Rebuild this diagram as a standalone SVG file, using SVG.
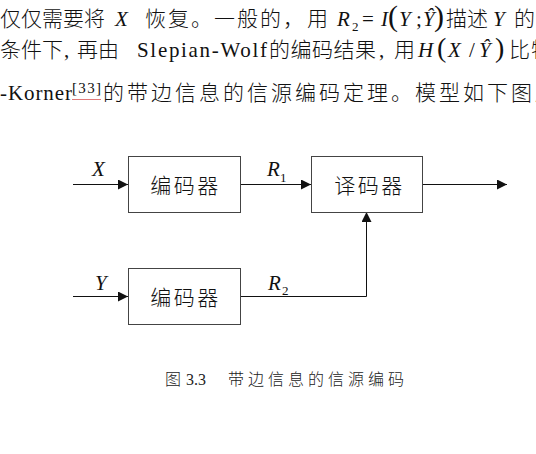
<svg xmlns="http://www.w3.org/2000/svg" width="536" height="454" viewBox="0 0 536 454">
<style>
.cjk{font-family:"Noto Sans CJK SC","Noto Sans",sans-serif;font-size:21px;fill:#111;font-weight:300}
.lat{font-family:"Liberation Serif","Times New Roman",serif;font-size:21px;fill:#111}
.it{font-style:italic}
.sub{font-family:"Liberation Serif","Times New Roman",serif;font-size:13px;fill:#111}
.box{fill:#fff;stroke:#444;stroke-width:1}
.btxt{font-family:"Noto Sans CJK SC","Noto Sans",sans-serif;font-size:21px;letter-spacing:2.5px;fill:#111;text-anchor:middle;font-weight:300}
.lbl{font-family:"Liberation Serif","Times New Roman",serif;font-size:21px;font-style:italic;fill:#111}
.wire{fill:none;stroke:#111;stroke-width:1}
.cap{font-family:"Noto Sans CJK SC","Noto Sans",sans-serif;font-size:16px;fill:#222;font-weight:300}
</style>
<defs>
<marker id="arr" viewBox="0 0 10 10" refX="10" refY="5" markerWidth="10" markerHeight="10" markerUnits="userSpaceOnUse" orient="auto">
<path d="M0,0 L10,5 L0,10 Z" fill="#111"/>
</marker>
</defs>
<rect width="536" height="454" fill="#fff"/>

<g id="body-text">
<!-- line 1 -->
<text class="cjk" y="26"><tspan x="0 21 42 63 84">仅仅需要将</tspan><tspan x="145 168 191 214 237 260 283 307">恢复。一般的，用</tspan><tspan x="446 467">描述</tspan><tspan x="514">的</tspan></text>
<text class="lat it" x="115" y="26">X</text>
<text class="lat it" x="337" y="26">R</text>
<text class="sub" x="352" y="31">2</text>
<text class="lat" x="362" y="26">=</text>
<text class="lat it" x="381" y="26">I</text>
<text class="lat" x="388" y="26" style="font-size:30px">(</text>
<text class="lat it" x="399" y="26">Y</text>
<text class="lat" x="416" y="26">;</text>
<text class="lat it" x="423" y="26">Ŷ</text>
<text class="lat" x="434" y="26" style="font-size:30px">)</text>
<text class="lat it" x="493" y="26">Y</text>
<!-- line 2 -->
<text class="cjk" y="57"><tspan x="0 21 42">条件下</tspan><tspan x="77 98">再由</tspan><tspan x="269 290.5 312 333.5 355">的编码结果</tspan><tspan x="394">用</tspan><tspan x="509 531">比特</tspan></text>
<text class="lat" x="64" y="57">,</text>
<text class="lat" x="137" y="57" textLength="130" lengthAdjust="spacing">Slepian-Wolf</text>
<text class="lat" x="379" y="57">,</text>
<text class="lat it" x="418" y="57">H</text>
<text class="lat" x="437" y="57" style="font-size:28px">(</text>
<text class="lat it" x="448" y="57">X</text>
<text class="lat" x="469" y="57">/</text>
<text class="lat it" x="479" y="57">Ŷ</text>
<text class="lat" x="495" y="57" style="font-size:28px">)</text>
<!-- line 3 -->
<text class="lat" x="0" y="100" textLength="72" lengthAdjust="spacing">-Korner</text>
<text class="lat" x="72" y="93" style="font-size:15px" textLength="29" lengthAdjust="spacing">[33]</text>
<line x1="72" y1="99.5" x2="101" y2="99.5" stroke="#e07a7a" stroke-width="1"/>
<text class="cjk" y="100"><tspan x="103 127 151 175 199 223 247 271 295 319 343 367 391 415 439 463 487 511 535">的带边信息的信源编码定理。模型如下图所</tspan></text>
</g>

<g id="connectors">
<line class="wire" x1="73" y1="184.5" x2="128" y2="184.5" marker-end="url(#arr)"/>
<line class="wire" x1="241" y1="184.5" x2="311" y2="184.5" marker-end="url(#arr)"/>
<line class="wire" x1="423" y1="184.5" x2="507" y2="184.5" marker-end="url(#arr)"/>
<line class="wire" x1="73" y1="296.5" x2="128" y2="296.5" marker-end="url(#arr)"/>
<polyline class="wire" points="241,296.5 366.5,296.5 366.5,212" marker-end="url(#arr)"/>
</g>

<g id="encoder1">
<rect class="box" x="128.5" y="156.5" width="112" height="56"/>
<text class="btxt" x="185.5" y="193">编码器</text>
</g>
<g id="decoder">
<rect class="box" x="311.5" y="156.5" width="111" height="56"/>
<text class="btxt" x="369.5" y="193">译码器</text>
</g>
<g id="encoder2">
<rect class="box" x="128.5" y="268.5" width="112" height="56"/>
<text class="btxt" x="185.5" y="305">编码器</text>
</g>

<g id="labels">
<text class="lbl" x="92" y="176">X</text>
<text class="lbl" x="267" y="176">R</text>
<text class="sub" x="280" y="182">1</text>
<text class="lbl" x="95" y="290">Y</text>
<text class="lbl" x="268" y="290">R</text>
<text class="sub" x="282" y="295">2</text>
</g>

<g id="caption">
<text class="cap" x="165" y="385">图</text>
<text class="lat" x="186" y="385" style="font-size:16px;fill:#222">3.3</text>
<text class="cap" x="228" y="385" style="letter-spacing:4px">带边信息的信源编码</text>
</g>
</svg>
